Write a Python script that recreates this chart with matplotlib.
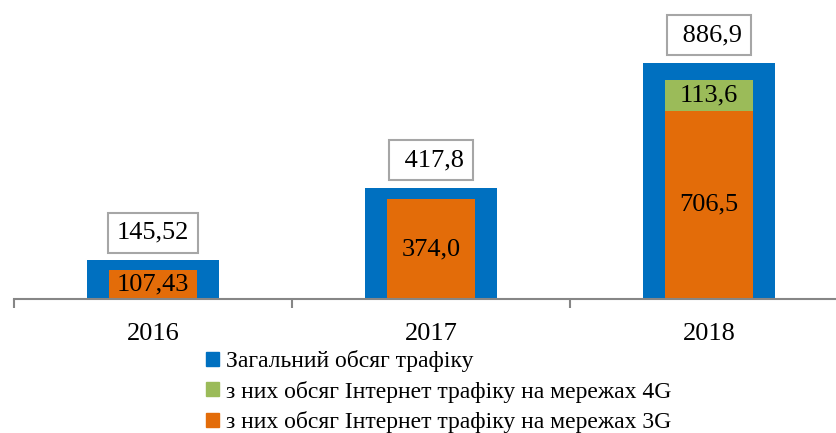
import matplotlib
matplotlib.use("Agg")
from matplotlib import pyplot as plt
from matplotlib.patches import Patch

plt.rcParams["font.family"] = ["Liberation Serif", "DejaVu Serif"]

years = ["2016", "2017", "2018"]
total = [145.52, 417.8, 886.9]
traffic_3g = [107.43, 374.0, 706.5]
traffic_4g = [0, 0, 113.6]
total_labels = ["145,52", "417,8", "886,9"]
labels_3g = ["107,43", "374,0", "706,5"]
labels_4g = [None, None, "113,6"]

BLUE = "#0070C0"
GREEN = "#9BBB59"
ORANGE = "#E36C09"

W, H = 837, 433
fig = plt.figure(figsize=(W / 100, H / 100), dpi=100)
# axes: x from 14px to 848px, baseline at 299px from top
ax = fig.add_axes([14 / W, (H - 299) / H, 834 / W, 299 / H])

x = range(len(years))
ax.bar(x, total, width=0.475, color=BLUE)
ax.bar(x, traffic_3g, width=0.32, color=ORANGE)
ax.bar(x, traffic_4g, width=0.32, bottom=traffic_3g, color=GREEN)

ax.set_xlim(-0.5, 2.5)
ax.set_ylim(0, 1122)

# the excel boxes for 2017/2018 sit a bit wider on the left
lead = ["", " ", " "]
for i in x:
    ax.annotate(lead[i] + total_labels[i], (i, total[i]), xytext=(0, 12),
                textcoords="offset points", ha="center", va="bottom",
                fontsize=19,
                bbox=dict(boxstyle="square,pad=0.34", fc="white",
                          ec="#A6A6A6", lw=1.5))
    ax.text(i, traffic_3g[i] / 2, labels_3g[i], ha="center", va="center",
            fontsize=19)
    if labels_4g[i]:
        ax.text(i, traffic_3g[i] + traffic_4g[i] / 2, labels_4g[i],
                ha="center", va="center", fontsize=19)

for s in ["top", "right", "left"]:
    ax.spines[s].set_visible(False)
ax.spines["bottom"].set_color("#868686")
ax.spines["bottom"].set_linewidth(1.5)
ax.set_yticks([])
ax.set_xticks([-0.5, 0.5, 1.5, 2.5])
ax.set_xticks(list(x), years, minor=True)
ax.tick_params(axis="x", which="major", length=6.5, width=1.5,
               color="#868686", labelbottom=False)
ax.tick_params(axis="x", which="minor", length=0, pad=17, labelsize=19)

handles = [Patch(color=BLUE), Patch(color=GREEN), Patch(color=ORANGE)]
names = ["Загальний обсяг трафіку",
         "з них обсяг Інтернет трафіку на мережах 4G",
         "з них обсяг Інтернет трафіку на мережах 3G"]
fig.legend(handles, names, loc="upper left",
           bbox_to_anchor=(206 / W, 1 - 350 / H), frameon=False,
           fontsize=17, handlelength=0.55, handleheight=0.55,
           handletextpad=0.3, labelspacing=0.37, borderpad=0,
           borderaxespad=0)

plt.savefig("out.png", dpi=100)
